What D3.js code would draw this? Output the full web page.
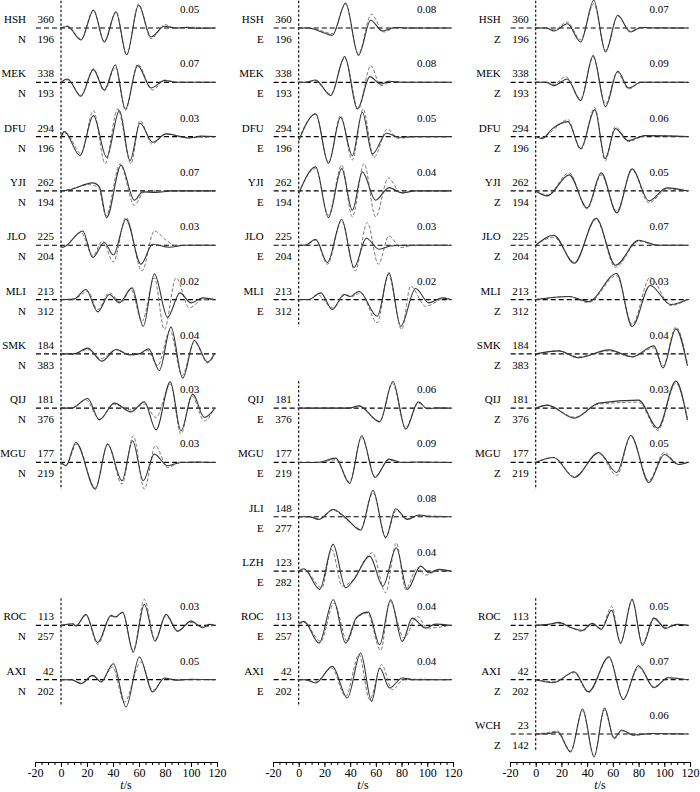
<!DOCTYPE html>
<html>
<head>
<meta charset="utf-8">
<script src="https://cdn.jsdelivr.net/npm/d3@7"></script>
<style>
  body { margin: 0; background: #fff; }
  svg { font-family: "Liberation Serif", serif; font-size: 11px; }
</style>
</head>
<body>
<script>
// ---- data ----
const comps = ['N', 'E', 'Z']
const stations = ['HSH', 'MEK', 'DFU', 'YJI', 'JLO', 'MLI', 'SMK', 'QIJ', 'MGU', 'JLI', 'LZH', 'ROC', 'AXI', 'WCH']
const azimuth = [360, 338, 294, 262, 225, 213, 184, 181, 177, 148, 123, 113, 42, 23]
// epicentral distance shown under the azimuth (null = no trace)
const distN = [196, 193, 196, 194, 204, 312, 383, 376, 219, null, null, 257, 202, null]
const distE = [196, 193, 196, 194, 204, 312, null, 376, 219, 277, 282, 257, 202, null]
const distZ = [196, 193, 196, 194, 204, 312, 383, 376, 219, null, null, 257, 202, 142]
// peak amplitude labels
const ampN = ['0.05', '0.07', '0.03', '0.07', '0.03', '0.02', '0.04', '0.03', '0.03', null, null, '0.03', '0.05', null]
const ampE = ['0.08', '0.08', '0.05', '0.04', '0.03', '0.02', null, '0.06', '0.09', '0.08', '0.04', '0.04', '0.04', null]
const ampZ = ['0.07', '0.09', '0.06', '0.05', '0.07', '0.03', '0.04', '0.03', '0.05', null, null, '0.05', '0.07', '0.06']
const tickMajor = [-20, 0, 20, 40, 60, 80, 100, 120]

// waveforms: [t (s), relative amplitude]; obs = solid, syn = dashed
const obsN = {
  HSH: [[0,0],[5,1.5],[15.4,-12],[25,17.7],[33.3,-14],[42.3,16],[50.5,-26.7],[59.7,22.7],[69.2,-9],[79.5,1.7],[88,0],[96,0.5],[104,-0.3],[118,0]],
  MEK: [[0,0],[5,3.3],[15.4,-14],[24.9,12.7],[33.3,-7.7],[41.8,17.3],[49.5,-26.7],[59,16.7],[69.2,-5.7],[79.5,1.7],[90,0],[118,0]],
  DFU: [[0,0],[2.6,5],[14.6,-19],[24.9,21],[35.1,-20.7],[44.9,26],[53.1,-24],[60.8,13.3],[70.5,-5.7],[80.8,2.7],[98.7,-1.3],[108,0.5],[118,0]],
  YJI: [[0,0],[6.4,1],[24.4,8],[29.5,4],[35.1,-26.7],[46.2,25.7],[56.4,-9.3],[62.8,-1],[73,-1.5],[85,0],[118,0]],
  JLO: [[0,-1],[1.3,-2],[16.7,14.3],[24.4,-12.3],[33.3,2.7],[40.3,-9.7],[50,26],[61.5,-19],[70.5,1],[83.3,-2],[95,0],[118,0]],
  MLI: [[0,0],[10,0.5],[19.2,10],[28.2,-12.3],[37.2,5],[44.9,-3.3],[54.6,11.7],[63.3,-26.7],[71.8,25.7],[82,-17.7],[91.5,6.7],[100,-3.3],[109,1.7],[118,0]],
  SMK: [[0,0],[10,0],[20.5,5.7],[31.5,-7.3],[42.3,4.3],[52.6,-1],[60,0],[67.4,5],[75.6,-16.7],[84.6,26.7],[93.6,-24.3],[102.6,13.3],[112.8,-8.3],[118,0]],
  QIJ: [[0,0],[8,0],[20.5,9.7],[29.5,-11.7],[41,5],[53.8,-3.7],[64.1,6.3],[73.1,-21.7],[84.1,26.3],[92.3,-22.7],[101.3,14],[110.3,-9.3],[118,-1]],
  MGU: [[0,0],[3.8,-3.3],[11.5,20],[26.4,-26.7],[35.9,18.3],[46.9,-18.3],[55.1,21.7],[63.3,-18.3],[71.8,8.3],[82,-3.3],[92,0],[105,0.5],[118,0]],
  ROC: [[0,0],[9,1.7],[11.5,-0.7],[19.2,11],[28.2,-17.3],[38.5,10],[42,8.5],[47.4,13.3],[55.6,-26.7],[64.1,21],[72.3,-15.7],[80.8,11],[89.7,-5.7],[100,4.3],[109,-2.3],[114,1],[118,0]],
  AXI: [[0,0],[8,0],[15.4,-4],[24.4,4.3],[30.8,-2.3],[40.3,16],[50,-27.3],[60.3,22.7],[70.5,-12.3],[79.5,1.7],[88,-0.5],[100,0.5],[118,0]]
}
const synN = {
  HSH: [[0,0],[5,2],[15.4,-11],[25,18],[33.3,-13.5],[42.3,16.5],[50.5,-27],[59.7,24],[69.2,-10.7],[80,3.3],[88,-0.5],[96,0.8],[118,0]],
  MEK: [[0,0],[5,2.5],[15.4,-13],[24.9,13.5],[33.3,-8.5],[41.8,15],[49.5,-28],[59,18],[70.5,-7.7],[79.5,2.3],[90,0],[118,0]],
  DFU: [[0,0],[3.8,3.3],[15.4,-17],[24.9,26],[34,-27],[43.6,27.7],[53.8,-27],[60.8,16],[70,-7.3],[80.8,2.7],[98.7,-1],[118,0]],
  YJI: [[0,0],[6.4,1.5],[21.8,6.3],[29,3],[34.6,-25],[45.4,27],[56.4,-14.3],[64,-1],[75,0],[118,0]],
  JLO: [[0,-1],[1.3,-2],[15.4,12.7],[24.4,-10.7],[32,4.3],[40.3,-16.7],[50,27.7],[62.3,-25.7],[71.8,14.3],[80.8,5],[88.5,-0.5],[100,0],[118,0]],
  MLI: [[0,0],[10,0.5],[20.5,8.3],[28.2,-10],[37.2,6.7],[46.2,-3],[53.8,10],[62.3,-21.7],[71.8,21.7],[79.5,-30],[88.5,21.7],[98.7,-8.3],[109,0],[118,0]],
  SMK: [[0,0],[10,0],[20.5,4.3],[30.8,-5],[42.3,4.3],[52.6,-0.5],[60,0],[66.7,3.3],[74.4,-11.7],[83.8,23.3],[93.1,-21.7],[102.6,11.7],[112.8,-9],[118,-2]],
  QIJ: [[0,0],[8,0],[19.2,8.3],[29.5,-11],[41,4],[53.8,-1.7],[64.1,4],[73.1,-9.3],[84.1,24],[92.3,-26],[100.5,12.3],[110.3,-12.7],[118,0.7]],
  MGU: [[0,0],[3.8,-2.7],[12,18.3],[26.4,-25],[35.9,18.3],[46.9,-21.7],[55.6,26.7],[64.1,-26.7],[72.6,16.7],[82,-5],[92,0],[118,0]],
  ROC: [[0,0],[9,1.5],[11.5,-0.5],[19.2,10],[28.2,-19],[38.5,9],[42,8],[47.4,12.5],[55.6,-25],[64.1,26],[72.3,-14],[80.8,9.3],[89.7,-6],[100,3],[109,-1.5],[118,0]],
  AXI: [[0,0],[8,0],[15.4,-3],[24.4,3.7],[30.8,-1.5],[39.7,12.7],[48.7,-22.3],[61.5,17.7],[70.5,-10.7],[79.5,1],[90,0],[118,0]]
}
const obsE = {
  HSH: [[0,0],[8,0],[15.8,-3],[26.2,-7.3],[36.5,25],[46.4,-27.3],[56,7.7],[65,-3],[75,0.5],[85,0],[118,0]],
  MEK: [[0,0],[5,0],[13.2,2.3],[24.9,-13.3],[35.8,25.7],[45.6,-26.7],[55.4,5.7],[63.7,-1.7],[70.2,1],[80,0],[118,0]],
  DFU: [[0,-4],[13.2,22.7],[23.1,-26.7],[32.6,19.3],[41.7,-19],[49.5,24.3],[57.3,-17.3],[68.4,3.3],[78,-0.7],[90,0],[118,0]],
  YJI: [[0,-2.7],[13.2,24],[23.1,-26.7],[33.4,22.3],[41.7,-19.3],[49.5,19],[59.8,-9.3],[70.2,3.3],[80.6,-2],[90,0],[118,0]],
  JLO: [[0,0],[5,0],[13.2,6],[22.3,-17.3],[33.4,26],[43,-22.3],[52.6,7],[62.4,-4],[71.5,-0.7],[80,0],[118,0]],
  MLI: [[0,0],[8,0],[17.1,6.7],[26.2,-10],[35.2,5],[40,3],[46.9,8.3],[61.1,-16.7],[70.2,26.7],[79.3,-26.7],[90.9,11],[101.3,-3.3],[111.7,1.7],[118,0]],
  QIJ: [[0,0],[39.1,0],[46.9,2.3],[63,-13.7],[73.3,26.7],[83.2,-21],[93,6.3],[100,-0.5],[108,0.3],[118,0]],
  MGU: [[0,0],[15,0],[28.8,4.3],[39.6,-21],[49,26.7],[59.3,-15],[70.2,3.3],[80,0],[95,0.5],[118,0]],
  JLI: [[0,0],[8,0],[15.8,-2.7],[26.7,7.3],[36.5,-1],[48.2,-13.3],[57.8,26.3],[67.6,-21],[75.4,8],[84.5,-2.7],[93.5,1.7],[105,0],[118,0]],
  LZH: [[0,0],[4.1,2.3],[16.3,-18.3],[26.7,26.7],[36.5,-16.7],[43,-8.3],[55.2,15],[65.5,-15],[75.9,23.3],[84.5,-18.3],[94.8,5],[101.3,-1.7],[109.1,1.7],[118,0]],
  ROC: [[0,2],[4.1,4],[15.8,-17.7],[26.9,25.7],[36.5,-17.7],[45,8],[54.1,13.3],[63,-19.3],[71.5,25.7],[80.6,-16],[88.3,7.3],[98.7,-2.7],[106.5,1.3],[118,0]],
  AXI: [[0,0],[5,0],[13.2,-3.3],[26.2,13.3],[37.8,-18.3],[48.2,26.7],[56.7,-21.7],[63,11.7],[70.7,-8.3],[80.6,1.7],[90,0],[118,0]]
}
const synE = {
  HSH: [[0,0],[8,0],[15.8,-2],[26.2,-5.7],[36.5,23.7],[46.4,-25.7],[56.5,13.7],[66.3,-4],[75,0.5],[85,0],[118,0]],
  MEK: [[0,0],[5,0],[11.9,1.7],[24.9,-11.7],[35.8,24.3],[46.4,-26.7],[56,16.7],[63.7,-3.3],[72,0.5],[80,0],[118,0]],
  DFU: [[0,-2.3],[13.2,22.7],[23.1,-25.7],[32.6,21],[41.7,-23.3],[50,27.7],[58.5,-20.7],[69,7.7],[77,-1.7],[90,0],[118,0]],
  YJI: [[0,-1.5],[13.2,22.3],[23.1,-24.3],[33.4,25.7],[41.7,-26],[50.8,27.3],[59.8,-26],[69.7,13],[79.3,-2],[90,0],[118,0]],
  JLO: [[0,0],[5,0],[13.2,5],[22.3,-19],[33.4,24.3],[43.8,-25.7],[53.4,22.7],[61.9,-19],[70.2,9.3],[79.3,-2.3],[90,0],[118,0]],
  MLI: [[0,0],[8,0],[14.5,5],[26.2,-8.3],[36.5,5],[41,3],[48.2,6.7],[61.1,-23.3],[69.7,25],[80.1,-30],[87,13.3],[98.7,-6.7],[114.2,1.7],[118,0]],
  QIJ: [[0,0],[39.1,0],[46.9,2],[63,-13],[72.8,25],[83.2,-19.5],[93,5],[100,-0.5],[118,0]],
  MGU: [[0,0],[15,0],[28.8,2.7],[39.6,-19.3],[49,25],[59.3,-14],[70.2,2.3],[80,0],[118,0]],
  JLI: [[0,0],[8,0],[15.8,-2],[26.7,6.7],[36.5,-2],[48.2,-12],[57.8,24],[67.6,-20],[75.9,6.3],[84.5,-2],[93.5,1],[118,0]],
  LZH: [[0,0],[4.1,1.7],[17.9,-16.7],[25.6,21.7],[33.9,-15],[40.4,-11],[57.3,18.3],[67.6,-21.7],[75.9,28.3],[83.2,-18.3],[92.2,3.3],[98.7,-4],[109,0.5],[118,0]],
  ROC: [[0,1],[4.1,3],[17.1,-16],[27.5,22.3],[37.8,-16],[45,7],[53.4,12.3],[63.7,-25],[71,24],[81.9,-12.7],[92.2,9],[100,-2.7],[118,0]],
  AXI: [[0,0],[5,0],[13.2,-2.3],[25.6,11.7],[36.5,-16.7],[46.9,25],[55.2,-20],[64.5,15],[72.8,-10],[82,0.5],[118,0]]
}
const obsZ = {
  HSH: [[0,0],[8,0],[14.3,-3],[24.6,4.3],[34.9,-14],[45.2,27.7],[54.3,-24],[63.8,12.7],[73.6,-4],[82,0.5],[95,0],[118,0]],
  MEK: [[0,0],[8,0],[14.3,-3.3],[24.6,3.3],[34.9,-18.3],[44.7,26.7],[54.3,-24.3],[63.8,11],[72.3,-5.7],[82,0],[118,0]],
  DFU: [[0,0],[5,-2],[13,8],[25,15],[35,-12],[46,27],[54,-22],[62,8],[72,-4],[85,1],[118,0]],
  YJI: [[0,0],[9,-5],[26,16],[40,-17],[51,18],[63,-22],[75,22],[88,-10],[102,3],[118,0]],
  JLO: [[0,0],[14,10],[30,-18],[47,27],[62,-20],[80,5],[95,0],[118,0]],
  MLI: [[0,0],[26,3],[41,-2],[63,26],[75,-27],[89,14],[105,-5],[118,0]],
  SMK: [[0,0],[18,3],[33,-4],[57,4],[75,-3],[92,8],[99,-14],[109,25],[118,-12]],
  QIJ: [[0,0],[9,3],[30,-10],[49,5],[80,8],[95,-20],[109,27],[118,-12]],
  MGU: [[0,0],[14,5],[30,-15],[49,10],[63,-10],[74,27],[88,-20],[100,8],[111,-2],[118,0]],
  ROC: [[0,0],[10,1],[18,3],[27,-2],[36,-5],[44,2],[51,-4],[59,15],[66,-18],[75,26],[83,-20],[92,7],[101,-3],[110,1],[118,0]],
  AXI: [[0,0],[14,-3],[30,8],[41,-12],[57,23],[68,-20],[80,14],[92,-8],[103,2],[118,0]],
  WCH: [[0,0],[10,0.5],[17,2],[27.2,-18],[36.5,25],[45.4,-23],[53.5,26],[61,-4],[67,4],[76,-1],[90,0.5],[118,0]]
}
const synZ = {
  HSH: [[0,0],[8,0],[14.3,-2],[24.6,6],[34.9,-11.7],[45.2,24.3],[54.3,-22.3],[63.8,11.7],[73.6,-3],[82,0.5],[118,0]],
  MEK: [[0,0],[8,0],[14.3,-2],[23.3,5.7],[34.9,-16.7],[44.7,25],[54.3,-21.7],[63.3,10],[72.3,-6.7],[82,0],[118,0]],
  DFU: [[0,0],[5,-1],[13,6],[25,17],[35,-13],[46,29],[54,-24],[62,10],[72,-5],[85,1],[118,0]],
  YJI: [[0,0],[9,-4],[26,18],[40,-18],[51,16],[63,-20],[75,21],[88,-12],[102,2],[118,0]],
  JLO: [[0,0],[14,8],[30,-17],[47,26],[62,-22],[80,4],[95,0],[118,0]],
  MLI: [[0,0],[26,3],[41,-3],[63,24],[75,-25],[89,22],[105,-6],[118,0]],
  SMK: [[0,0],[18,3],[33,-3],[57,3],[75,-3],[92,6],[99,-12],[109,27],[118,-10]],
  QIJ: [[0,0],[9,3],[30,-9],[49,4],[80,6],[95,-22],[109,25],[118,-10]],
  MGU: [[0,0],[14,5],[30,-14],[49,9],[63,-13],[74,26],[88,-18],[100,10],[111,-2],[118,0]],
  ROC: [[0,0],[10,1],[18,2],[27,-2],[36,-6],[44,1],[51,-3],[59,19],[66,-17],[75,25],[83,-18],[92,8],[101,-2],[110,1],[118,0]],
  AXI: [[0,0],[14,-2],[30,7],[41,-13],[57,22],[68,-19],[80,12],[92,-7],[103,2],[118,0]],
  WCH: [[0,0],[10,1.5],[17,3],[27.2,-17],[36.5,23],[45.4,-22],[53.5,24],[61,-5],[67,3],[76,-1.5],[90,0.5],[118,0]]
}

const dist = { N: distN, E: distE, Z: distZ }
const ampLabel = { N: ampN, E: ampE, Z: ampZ }
const obs = { N: obsN, E: obsE, Z: obsZ }
const syn = { N: synN, E: synE, Z: synZ }

// ---- layout ----
const W = 700, H = 792
const colRange = [[35, 217], [273, 453], [510, 690]]
const ampLabelT = [91.5, 92, 88.5]   // where the amplitude label starts, in seconds
const axisY = 762
const rowY = d3.scaleLinear().domain([0, stations.length - 1]).range([28, 734])
const halfRow = (rowY(1) - rowY(0)) / 2
const amp = d3.scaleLinear().domain([-27, 27]).range([27, -27])

const svg = d3.select('body').append('svg')
  .attr('width', W)
  .attr('height', H)

comps.forEach((c, ci) => {
  const x = d3.scaleLinear().domain([-20, 120]).range(colRange[ci])
  const line = d3.line()
    .x(d => x(d[0]))
    .y(d => amp(d[1]))
    .curve(d3.curveMonotoneX)

  stations.forEach((s, si) => {
    if (dist[c][si] == null) return
    const y0 = rowY(si)
    const g = svg.append('g').attr('transform', `translate(0,${y0})`)
    // t = 0 marker
    g.append('line')
      .attr('x1', x(0)).attr('x2', x(0))
      .attr('y1', -halfRow)
      .attr('y2', Math.min(halfRow, axisY - 12 - y0))
      .attr('stroke', '#000').attr('stroke-width', 1.1)
      .attr('stroke-dasharray', '2.5,2')
    // zero line
    g.append('line')
      .attr('x1', x(0) - 25).attr('x2', x(119))
      .attr('y1', amp(0)).attr('y2', amp(0))
      .attr('stroke', '#000').attr('stroke-width', 1.2)
      .attr('stroke-dasharray', '5,3')
    // synthetic (dashed), observed (solid)
    g.append('path')
      .datum(syn[c][s])
      .attr('d', line)
      .attr('fill', 'none')
      .attr('stroke', '#777').attr('stroke-width', 1)
      .attr('stroke-dasharray', '3.5,2')
    g.append('path')
      .datum(obs[c][s])
      .attr('d', line)
      .attr('fill', 'none')
      .attr('stroke', '#333').attr('stroke-width', 1.1)
    // labels
    g.append('text').attr('x', x(0) - 35).attr('y', -5)
      .attr('text-anchor', 'end').text(s)
    g.append('text').attr('x', x(0) - 7).attr('y', -5)
      .attr('text-anchor', 'end').text(azimuth[si])
    g.append('text').attr('x', x(0) - 35).attr('y', 15)
      .attr('text-anchor', 'end').text(c)
    g.append('text').attr('x', x(0) - 7).attr('y', 15)
      .attr('text-anchor', 'end').text(dist[c][si])
    g.append('text').attr('x', x(ampLabelT[ci])).attr('y', -15)
      .text(ampLabel[c][si])
  })

  // time axis
  const minor = d3.range(-20, 121, 5)
  const ax = svg.append('g').attr('transform', `translate(0,${axisY})`)
  ax.call(d3.axisBottom(x).tickValues(minor).tickSize(3).tickFormat(''))
  ax.call(g => g.select('.domain').attr('stroke', '#000'))
  const labs = svg.append('g').attr('transform', `translate(0,${axisY})`)
    .call(d3.axisBottom(x).tickValues(tickMajor).tickSize(5).tickFormat(d => String(d)))
  labs.select('.domain').remove()
  labs.selectAll('text')
    .attr('font-family', '"Liberation Serif", serif')
    .attr('font-size', 12).attr('fill', '#000').attr('dy', '0.55em')
  svg.append('text')
    .attr('x', x(50)).attr('y', axisY + 27)
    .attr('text-anchor', 'middle')
    .attr('font-size', 12)
    .html('<tspan font-style="italic">t</tspan>/s')
})
</script>
</body>
</html>
